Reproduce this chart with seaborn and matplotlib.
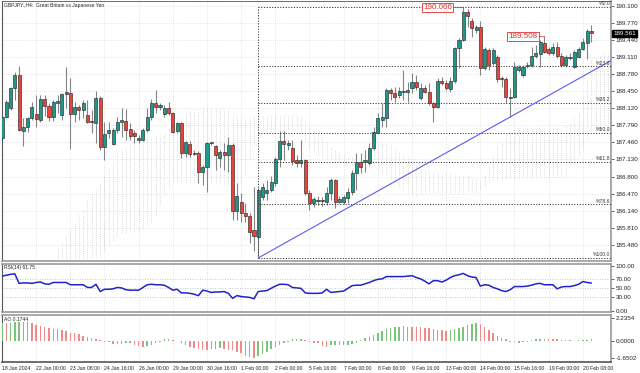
import numpy as np
import matplotlib
matplotlib.use("Agg")
import matplotlib.pyplot as plt
import matplotlib.transforms as mtransforms
import seaborn as sns

# ---- GBPJPY H4 candles (18 Jan 16:00 .. 20 Feb 2024), one value per bar ----
opens = [187.54, 187.95, 188.12, 188.51, 188.76, 187.68, 187.76, 187.93, 188.01, 187.89,
         188.30, 188.16, 187.95, 188.22, 187.99, 188.39, 188.41, 188.01, 188.14, 188.08,
         187.99, 187.87, 187.83, 188.32, 187.37, 187.64, 187.43, 187.70, 187.85, 187.87,
         187.72, 187.64, 187.51, 187.51, 187.70, 187.95, 188.22, 188.14, 188.01, 188.12,
         188.03, 187.68, 187.83, 187.25, 187.43, 187.25, 187.25, 186.89, 186.98, 187.45,
         187.39, 187.16, 187.27, 187.22, 187.41, 186.14, 186.31, 186.10, 186.04, 185.77,
         185.63, 186.41, 186.48, 186.54, 186.68, 187.14, 187.49, 187.41, 187.35, 187.12,
         187.06, 187.12, 186.48, 186.29, 186.33, 186.35, 186.31, 186.48, 186.73, 186.31,
         186.31, 186.39, 186.50, 186.87, 187.08, 187.08, 187.06, 187.35, 187.64, 187.89,
         187.93, 188.47, 188.41, 188.37, 188.43, 188.43, 188.51, 188.62, 188.32, 188.51,
         188.43, 188.22, 188.14, 188.64, 188.61, 188.49, 188.64, 189.28, 189.43, 189.98,
         189.80, 189.63, 189.69, 188.89, 189.24, 188.99, 189.11, 188.70, 188.68, 188.32,
         188.34, 188.86, 188.76, 188.93, 188.95, 189.13, 189.16, 189.38, 189.26, 189.18,
         189.30, 189.13, 188.95, 189.09, 188.91, 189.11, 189.26, 189.38, 189.61]
highs = [187.99, 188.28, 188.53, 188.82, 188.93, 187.93, 187.95, 188.24, 188.37, 188.37,
         188.37, 188.22, 188.28, 188.37, 188.41, 188.91, 188.70, 188.24, 188.18, 188.28,
         188.28, 188.08, 188.45, 188.35, 187.85, 187.85, 187.74, 187.95, 188.12, 188.10,
         187.83, 187.70, 187.60, 187.74, 188.12, 188.30, 188.47, 188.22, 188.18, 188.24,
         188.05, 187.85, 187.85, 187.49, 187.49, 187.31, 187.29, 187.02, 187.47, 187.47,
         187.41, 187.31, 187.45, 187.56, 187.45, 186.68, 186.48, 186.29, 186.10, 186.60,
         186.58, 186.68, 186.73, 186.81, 187.18, 187.68, 187.68, 187.51, 187.51, 187.22,
         187.51, 187.14, 186.54, 186.41, 186.43, 186.41, 186.60, 186.77, 186.75, 186.43,
         186.44, 186.58, 186.93, 187.25, 187.25, 187.31, 187.45, 187.76, 188.03, 188.22,
         188.51, 188.51, 188.53, 188.53, 188.86, 188.62, 188.80, 188.76, 188.61, 188.57,
         188.61, 188.24, 188.70, 188.72, 188.66, 188.72, 189.30, 189.47, 190.066, 190.03,
         189.86, 189.72, 189.80, 189.30, 189.28, 189.28, 189.15, 188.74, 188.72, 188.51,
         189.01, 188.95, 188.95, 189.01, 189.30, 189.34, 189.43, 189.508, 189.30, 189.38,
         189.40, 189.18, 189.15, 189.18, 189.24, 189.30, 189.47, 189.65, 189.72]
lows = [187.51, 187.93, 188.08, 188.28, 187.68, 187.39, 187.66, 187.89, 187.76, 187.85,
        187.97, 187.87, 187.87, 188.03, 187.89, 188.12, 187.33, 187.85, 187.89, 187.93,
        187.83, 187.64, 187.45, 187.31, 187.12, 187.54, 187.41, 187.64, 187.56, 187.51,
        187.51, 187.45, 187.45, 187.49, 187.66, 187.89, 188.03, 188.08, 187.95, 187.99,
        187.64, 187.64, 187.16, 187.18, 187.18, 187.22, 186.68, 186.64, 186.50, 187.41,
        186.93, 186.98, 186.93, 186.89, 185.96, 185.96, 185.92, 185.92, 185.52, 185.36,
        185.23, 186.35, 186.35, 186.50, 186.62, 186.98, 187.12, 187.31, 187.02, 186.98,
        186.98, 186.44, 186.16, 186.21, 186.25, 186.23, 186.25, 186.35, 186.19, 186.29,
        186.27, 186.29, 186.44, 186.54, 186.87, 186.89, 187.02, 187.31, 187.64, 187.76,
        187.76, 188.28, 188.24, 188.32, 188.28, 188.24, 188.41, 188.47, 188.28, 188.41,
        188.18, 187.85, 188.12, 188.57, 188.47, 188.43, 188.61, 188.89, 189.42, 189.69,
        189.49, 189.57, 188.76, 188.86, 188.86, 188.95, 188.62, 188.53, 188.22, 187.95,
        188.32, 188.82, 188.72, 188.89, 188.91, 189.09, 188.91, 189.18, 189.15, 189.15,
        189.09, 188.91, 188.91, 189.05, 188.89, 189.09, 189.24, 189.07, 189.40]
closes = [187.95, 188.24, 188.51, 188.76, 187.70, 187.76, 187.93, 188.14, 187.91, 188.30,
          188.16, 187.95, 188.24, 188.26, 188.39, 188.43, 188.01, 188.14, 188.08, 188.22,
          187.85, 187.85, 188.32, 187.37, 187.62, 187.70, 187.70, 187.85, 187.89, 187.70,
          187.58, 187.58, 187.54, 187.70, 187.95, 188.22, 188.14, 188.18, 188.12, 188.03,
          187.66, 187.83, 187.25, 187.47, 187.24, 187.24, 186.89, 186.98, 187.45, 187.47,
          187.22, 187.27, 187.22, 187.41, 186.14, 186.43, 186.10, 186.04, 185.73, 185.65,
          186.54, 186.60, 186.54, 186.70, 187.14, 187.49, 187.43, 187.45, 187.10, 187.06,
          187.12, 186.48, 186.29, 186.37, 186.35, 186.33, 186.48, 186.73, 186.31, 186.37,
          186.41, 186.50, 186.87, 187.08, 186.98, 187.12, 187.35, 187.66, 187.93, 187.95,
          188.47, 188.41, 188.34, 188.45, 188.45, 188.47, 188.62, 188.53, 188.51, 188.43,
          188.22, 188.14, 188.64, 188.61, 188.51, 188.64, 189.28, 189.43, 189.98, 189.90,
          189.67, 189.69, 188.89, 189.26, 188.95, 189.24, 188.68, 188.68, 188.34, 188.34,
          188.91, 188.91, 188.91, 188.95, 189.13, 189.18, 189.40, 189.20, 189.18, 189.30,
          189.13, 188.95, 189.11, 189.11, 189.20, 189.26, 189.40, 189.61, 189.561]

# ---- Ichimoku cloud, bars 13..143 ----
cloud_start = 13
cloud_top = [185.44, 185.54, 185.65, 185.77, 185.92, 186.06, 186.16, 186.35, 186.48, 186.58,
             186.68, 186.83, 186.97, 187.06, 187.25, 187.31, 187.37, 187.45, 187.51, 187.54,
             187.54, 187.54, 187.56, 187.58, 187.60, 187.64, 187.74, 187.83, 187.89, 187.95,
             188.03, 188.08, 188.10, 188.12, 188.14, 188.14, 188.12, 188.12, 188.12, 188.10,
             188.08, 188.05, 187.99, 187.93, 187.93, 187.95, 187.97, 187.99, 187.99, 187.99,
             187.99, 187.99, 187.99, 187.99, 187.99, 187.99, 187.99, 187.97, 187.85, 187.78,
             187.70, 187.64, 187.56, 187.47, 187.39, 187.31, 187.27, 187.22, 187.18, 187.16,
             187.16, 187.20, 187.27, 187.35, 187.41, 187.45, 187.47, 187.45, 187.41, 187.35,
             187.27, 187.22, 187.18, 187.12, 187.06, 186.97, 186.93, 186.91, 186.89, 186.89,
             186.87, 186.87, 186.85, 186.85, 186.83, 186.81, 186.81, 186.79, 186.77, 186.73,
             186.83, 187.02, 187.22, 187.41, 187.51, 187.60, 187.66, 187.74, 187.76, 187.76,
             187.76, 187.76, 187.76, 187.76, 187.76, 187.76, 187.74, 187.74, 187.74, 187.78,
             187.85, 187.93, 188.05, 188.28, 188.66, 189.05, 189.11, 189.15, 189.18, 189.20,
             189.24]
cloud_bottom = [185.17, 185.17, 185.17, 185.17, 185.17, 185.17, 185.19, 185.21, 185.23, 185.25,
                185.27, 185.38, 185.48, 185.58, 185.65, 185.71, 185.71, 185.73, 185.75, 185.77,
                185.79, 185.85, 185.92, 186.06, 186.25, 186.44, 186.58, 186.71, 186.71, 186.70,
                186.70, 186.70, 186.70, 186.70, 186.70, 186.68, 186.68, 186.68, 186.66, 186.66,
                186.64, 186.62, 186.58, 186.54, 186.83, 187.12, 187.41, 187.60, 187.66, 187.66,
                187.68, 187.68, 187.68, 187.68, 187.68, 187.68, 187.66, 187.64, 187.51, 187.41,
                187.31, 187.22, 187.18, 187.16, 187.14, 187.12, 187.10, 187.08, 187.06, 187.02,
                187.00, 187.00, 187.00, 186.98, 186.97, 186.93, 186.89, 186.83, 186.77, 186.70,
                186.62, 186.54, 186.50, 186.46, 186.43, 186.46, 186.48, 186.50, 186.50, 186.50,
                186.50, 186.50, 186.50, 186.50, 186.50, 186.50, 186.50, 186.50, 186.50, 186.54,
                186.64, 186.70, 186.73, 186.73, 186.75, 186.75, 186.77, 186.77, 186.77, 186.79,
                186.79, 186.79, 186.79, 186.79, 186.79, 186.79, 186.79, 186.79, 186.79, 186.83,
                187.02, 187.12, 187.22, 187.31, 187.51, 187.70, 187.70, 187.70, 187.70, 187.70,
                187.70]

# ---- RSI(14) ----
rsi = [77, 79, 81, 82, 61, 62, 62, 61, 63, 64,
       60, 59, 63, 63, 63, 63, 58, 58, 58, 58,
       52, 52, 59, 43, 48, 48, 49, 52, 51, 47,
       46, 46, 46, 52, 58, 59, 58, 58, 57, 52,
       46, 48, 40, 40, 39, 37, 34, 46, 44, 41,
       42, 42, 43, 39, 28, 34, 32, 31, 30, 27,
       43, 44, 45, 50, 55, 59, 59, 58, 52, 51,
       50, 40, 39, 39, 39, 40, 48, 41, 42, 43,
       44, 50, 56, 57, 57, 60, 63, 67, 70, 71,
       76, 76, 76, 76, 76, 77, 78, 74, 71, 66,
       60, 67, 67, 64, 68, 74, 78, 80, 83, 78,
       75, 74, 55, 58, 57, 52, 49, 45, 43, 47,
       54, 54, 54, 55, 57, 60, 61, 58, 58, 58,
       49, 53, 54, 54, 56, 59, 65, 63, 61.75]

# ---- Awesome Oscillator ----
ao = [1.76, 1.73, 1.75, 1.78, 1.81, 1.84, 1.86, 1.75, 1.52, 1.42,
      1.29, 1.20, 1.13, 1.10, 1.04, 0.97, 0.78, 0.71, 0.65, 0.45,
      0.32, 0.23, 0.13, 0.06, -0.10, -0.13, -0.32, -0.30, -0.28, -0.26,
      -0.25, -0.42, -0.48, -0.58, -0.49, -0.42, -0.26, -0.10, 0.13, 0.15,
      0.06, -0.06, -0.26, -0.42, -0.58, -0.74, -0.84, -0.90, -0.92, -0.84,
      -0.78, -0.68, -0.80, -0.90, -0.95, -1.07, -1.23, -1.49, -1.62, -1.65,
      -1.49, -1.29, -1.07, -0.84, -0.58, -0.42, -0.26, -0.10, 0.13, 0.14,
      0.16, 0.06, -0.10, -0.19, -0.26, -0.52, -0.65, -0.45, -0.42, -0.39,
      -0.42, -0.39, -0.36, -0.26, 0.05, 0.23, 0.32, 0.55, 0.71, 0.94,
      1.10, 1.20, 1.29, 1.36, 1.39, 1.38, 1.36, 1.33, 1.29, 1.26,
      1.20, 1.10, 1.04, 1.00, 0.97, 1.04, 1.10, 1.20, 1.36, 1.52,
      1.62, 1.75, 1.62, 1.36, 1.04, 0.71, 0.45, 0.29, 0.13, -0.10,
      -0.13, -0.19, -0.13, -0.10, 0.06, 0.13, 0.16, 0.19, 0.18, 0.16,
      0.13, 0.10, 0.06, 0.03, 0.01, 0.03, 0.06, 0.08, 0.1744]

# ---- axis labels ----
price_ticks = [190.100, 189.770, 189.440, 189.110, 188.780, 188.450, 188.120, 187.790,
               187.460, 187.130, 186.800, 186.470, 186.140, 185.810, 185.480]
rsi_ticks = [0, 30, 50, 70, 100]
ao_ticks = [-1.6502, 0.0, 2.2354]
date_labels = ["18 Jan 2024", "22 Jan 00:00", "23 Jan 08:00", "24 Jan 16:00", "26 Jan 00:00",
               "29 Jan 00:00", "30 Jan 16:00", "1 Feb 00:00", "2 Feb 00:00", "5 Feb 16:00",
               "7 Feb 00:00", "8 Feb 00:00", "9 Feb 16:00", "13 Feb 00:00", "14 Feb 00:00",
               "15 Feb 16:00", "19 Feb 00:00", "20 Feb 08:00"]
bars_per_label = 8

# Fibonacci retracement (low bar -> high bar) and trendline anchors
fib_low_idx, fib_low = 60, 185.23
fib_high_idx, fib_high = 108, 190.066
fib_levels = [0.0, 23.6, 38.2, 50.0, 61.8, 78.6, 100.0]
trend_idx = [60, 119]
trend_px = [185.23, 187.95]
mark_idx, mark_px = 127, 189.508
last_price = 189.561

# ---------------------------------------------------------------
sns.set_style("white")
plt.rcParams['font.family'] = ['Liberation Sans', 'DejaVu Sans']

W, H = 640, 373
fig = plt.figure(figsize=(W / 100, H / 100), dpi=100)


def px_rect(x0, y0, x1, y1):
    return [x0 / W, 1 - y1 / H, (x1 - x0) / W, (y1 - y0) / H]


ax = fig.add_axes(px_rect(2, 1, 611, 261))
ax_rsi = fig.add_axes(px_rect(2, 263.5, 611, 312))
ax_ao = fig.add_axes(px_rect(2, 314.5, 611, 361.7))

n = len(opens)
idx = np.arange(n)
o, h, l, c = map(np.asarray, (opens, highs, lows, closes))
up = c >= o
xmax = 142.6
tick_idx = np.arange(len(date_labels)) * bars_per_label

GREEN, RED = '#21968a', '#e8443a'
grid_kw = dict(color='#cdcdcd', linestyle=(0, (1, 2)), linewidth=0.5)

# ---- main price panel ----
cidx = np.arange(cloud_start, cloud_start + len(cloud_top))
ax.vlines(cidx, cloud_bottom, cloud_top, colors='#d0d0d0',
          linestyles=(0, (1, 1.6)), linewidth=0.6, zorder=1)

ax.vlines(idx, l, h, colors='#858585', linewidth=0.8, zorder=2)
ax.bar(idx, np.abs(c - o), bottom=np.minimum(o, c), width=0.72,
       color=np.where(up, GREEN, RED), edgecolor='#1a1a1a', linewidth=0.4, zorder=3)

# fibonacci
rng = fib_high - fib_low
for lvl in fib_levels:
    yv = fib_high - rng * lvl / 100
    ax.plot([fib_low_idx, xmax], [yv, yv], color='#3c3c3c', lw=0.7,
            ls=(0, (1.2, 1.6)), zorder=4)
    ax.text(xmax - 0.2, yv + 0.015, f"%{lvl:.1f}", fontsize=3.7, color='#3c3c3c',
            ha='right', va='bottom', zorder=5)
ax.plot([fib_low_idx, fib_low_idx], [fib_low, fib_high], color='#3c3c3c', lw=0.7,
        ls=(0, (1.2, 1.6)), zorder=4)

# trendline from the swing low, extended to the right edge
slope = (trend_px[1] - trend_px[0]) / (trend_idx[1] - trend_idx[0])
ax.plot([trend_idx[0], xmax], [trend_px[0], trend_px[0] + slope * (xmax - trend_idx[0])],
        color='#5c5cf0', lw=0.8, zorder=4)

# high / marked price tags
tag_kw = dict(fontsize=5.8, color='#e03030', ha='center', va='center', zorder=6,
              bbox=dict(boxstyle='square,pad=0.12', facecolor='white',
                        edgecolor='#e03030', linewidth=0.6))
ax.text(fib_high_idx - 6, fib_high, f"{fib_high:.3f}", **tag_kw)
ax.plot([fib_high_idx - 2.5, fib_high_idx], [fib_high, fib_high], color='#e03030', lw=0.5, zorder=5)
ax.text(mark_idx - 5, mark_px, f"{mark_px:.3f}", **tag_kw)
ax.plot([mark_idx - 1.5, mark_idx], [mark_px, mark_px], color='#e03030', lw=0.5, zorder=5)

ax.set_xlim(0, xmax)
ax.set_ylim(185.171, 190.187)
ax.set_yticks(price_ticks)
ax.set_yticklabels([f"{v:.3f}" for v in price_ticks])
ax.text(0.004, 0.992, "GBPJPY.,H4:  Great Britain vs Japanese Yen", transform=ax.transAxes,
        fontsize=3.6, ha='left', va='top')

# current price box on the axis
trans = mtransforms.blended_transform_factory(ax.transAxes, ax.transData)
ax.text(1.004, last_price, f"{last_price:.3f}", transform=trans, fontsize=4.5,
        color='white', ha='left', va='center', zorder=10, clip_on=False,
        bbox=dict(boxstyle='square,pad=0.15', facecolor='black', edgecolor='black'))

# ---- RSI panel ----
sns.lineplot(x=idx, y=rsi, ax=ax_rsi, color='#2222cc', linewidth=1.1, zorder=3)
for lv in (30, 50, 70):
    ax_rsi.axhline(lv, color='#b4b4b4', linestyle=(0, (1, 2)), linewidth=0.6, zorder=1)
ax_rsi.set_xlim(0, xmax)
ax_rsi.set_ylim(-2.2, 104.9)
ax_rsi.set_yticks(rsi_ticks)
ax_rsi.set_yticklabels([f"{v:.2f}" for v in rsi_ticks])
ax_rsi.text(0.004, 0.96, f"RSI(14) {rsi[-1]:.2f}", transform=ax_rsi.transAxes,
            fontsize=3.6, ha='left', va='top')

# ---- AO panel ----
ao_arr = np.asarray(ao)
ao_up = np.r_[True, ao_arr[1:] >= ao_arr[:-1]]
ax_ao.bar(idx, ao_arr, width=0.35, color=np.where(ao_up, '#7cc47c', '#f08a8a'),
          linewidth=0, zorder=3)
ax_ao.set_xlim(0, xmax)
ax_ao.set_ylim(-2.04, 2.546)
ax_ao.set_yticks(ao_ticks)
ax_ao.set_yticklabels([f"{v:.4f}" for v in ao_ticks])
ax_ao.text(0.004, 0.95, f"AO {ao[-1]:.4f}", transform=ax_ao.transAxes,
           fontsize=3.6, ha='left', va='top')

# ---- shared styling ----
for a in (ax, ax_rsi, ax_ao):
    a.set_xticks(tick_idx)
    a.grid(False)
    a.xaxis.grid(True, **grid_kw)
    a.yaxis.tick_right()
    a.tick_params(axis='y', length=2, width=0.5, pad=1.5, labelsize=4.5,
                  colors='#222222', direction='out')
    a.tick_params(axis='x', length=0, labelbottom=False)
    a.set_xlabel('')
    a.set_ylabel('')
    for side in ('top', 'bottom', 'right'):
        a.spines[side].set_color('#999999')
        a.spines[side].set_linewidth(1.2)
    a.spines['left'].set_color('#555555')
    a.spines['left'].set_linewidth(0.8)
    a.set_facecolor('white')
    a.set_axisbelow(True)
ax.yaxis.grid(True, **grid_kw)
ax.spines['top'].set_color('#555555')
ax.spines['top'].set_linewidth(0.6)

ax_ao.tick_params(axis='x', length=2, width=0.5, pad=1, labelbottom=True,
                  labelsize=3.7, colors='#222222')
ax_ao.set_xticklabels(date_labels)
for t in ax_ao.get_xticklabels():
    t.set_ha('left')
ax_ao.spines['bottom'].set_color('#555555')

fig.savefig("out.png", dpi=100, facecolor='white')
plt.close(fig)
